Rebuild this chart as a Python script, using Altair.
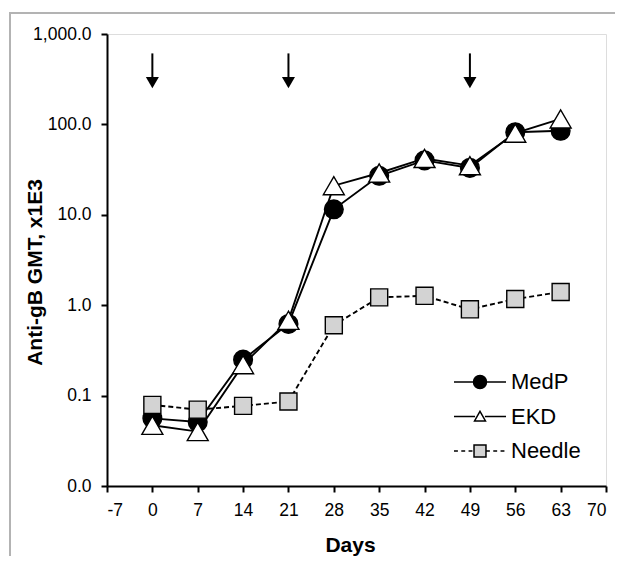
import altair as alt
import pandas as pd

# ---- data ----
days = [0, 7, 14, 21, 28, 35, 42, 49, 56, 63]
medp = [0.056, 0.051, 0.25, 0.62, 11.5, 27, 40, 33, 82, 85]
ekd = [0.047, 0.040, 0.22, 0.68, 21, 29, 42, 35, 80, 115]
needle = [0.079, 0.070, 0.077, 0.086, 0.60, 1.22, 1.27, 0.90, 1.17, 1.40]
series_names = ["MedP", "EKD", "Needle"]

arrow_days = [0, 21, 49]
arrow_top = [610, 610, 610]
arrow_head = [290, 290, 290]

y_ticks = [0.01, 0.1, 1, 10, 100, 1000]
x_ticks = list(range(-7, 71, 7))

rows = []
for name, vals in zip(series_names, [medp, ekd, needle]):
    for d, v in zip(days, vals):
        rows.append({"Days": d, "GMT": v, "Series": name})
df = pd.DataFrame(rows)
arrows = pd.DataFrame({"Days": arrow_days, "top": arrow_top, "head": arrow_head})

FONT = "Liberation Sans"
W, H = 499, 452

x_scale = alt.Scale(domain=[-7, 70], nice=False, zero=False)
y_scale = alt.Scale(type="log", domain=[0.01, 1000], nice=False)

x_axis = alt.Axis(
    values=x_ticks, title="Days", grid=False, domain=True, domainColor="black",
    domainWidth=2, tickColor="black", tickWidth=2, tickSize=6, labelFontSize=17.5,
    labelColor="black", labelFont=FONT, labelPadding=9,
    labelExpr="'' + datum.value", titleFont=FONT,
    titleFontSize=21, titleFontWeight="bold", titleColor="black",
    titleX=243, titleY=59, titleBaseline="middle", titleAlign="center",
)
y_axis = alt.Axis(
    values=y_ticks, format=",.1f", title="Anti-gB GMT, x1E3", grid=False,
    domain=True, domainColor="black", domainWidth=2, tickColor="black",
    tickWidth=2, tickSize=6, labelFontSize=17.5, labelColor="black",
    labelFont=FONT, labelPadding=10, titleFont=FONT, titleFontSize=21,
    titleFontWeight="bold", titleColor="black", titleX=-72, titleY=238,
    titleBaseline="middle", titleAlign="center", titleAngle=-90,
)

base = alt.Chart(df)

def series_layers(name, shape, fill, size, dash):
    d = base.transform_filter(alt.datum.Series == name)
    line_kwargs = dict(color="black", strokeWidth=1.9)
    if dash:
        line_kwargs["strokeDash"] = dash
    line = d.mark_line(**line_kwargs).encode(
        x=alt.X("Days:Q", scale=x_scale, axis=x_axis),
        y=alt.Y("GMT:Q", scale=y_scale, axis=y_axis),
    )
    pts = d.mark_point(
        shape=shape, filled=True, fill=fill, stroke="black", strokeWidth=1.4,
        size=size, opacity=1,
    ).encode(x="Days:Q", y="GMT:Q")
    return [line, pts]

layers = []
layers += series_layers("MedP", "circle", "black", 350, None)
layers += series_layers("EKD", "triangle-up", "white", 440, None)
layers += series_layers("Needle", "square", "#d3d3d3", 290, [5, 3])

# arrows
shaft = alt.Chart(arrows).mark_rule(color="black", strokeWidth=2).encode(
    x="Days:Q", y="top:Q", y2="head:Q"
)
head = alt.Chart(arrows).mark_point(
    shape="triangle-down", filled=True, color="black", size=170, opacity=1
).encode(x="Days:Q", y="head:Q")

# legend (symbol = line + marker drawn as one custom path)
circle_path = ("M-1,0H-0.25 M0.25,0H1 M0.25,0A0.25,0.25 0 1 1 -0.25,0"
               "A0.25,0.25 0 1 1 0.25,0Z")
tri_path = "M-1,0H-0.19 M0.19,0H1 M0,-0.2L0.21,0.17L-0.21,0.17Z"
sq_path = ("M-1,0H-0.85 M-0.72,0H-0.57 M-0.44,0H-0.29 "
           "M0.23,0H0.38 M0.51,0H0.66 M0.79,0H0.94 "
           "M-0.23,-0.23H0.23V0.23H-0.23Z")

def leg():
    return alt.Legend(
        title=None, orient="none", legendX=346, legendY=337,
        symbolSize=2704, clipHeight=22, rowPadding=12.5, labelOffset=4,
        labelFontSize=22, labelFont=FONT, labelColor="black",
        symbolStrokeColor="black", symbolStrokeWidth=1.5, padding=0,
    )

legend_layer = base.transform_filter("datum.Days > 1000").mark_point(
    filled=True, strokeWidth=1.5, opacity=1
).encode(
    x="Days:Q",
    y="GMT:Q",
    shape=alt.Shape(
        "Series:N",
        scale=alt.Scale(domain=series_names, range=[circle_path, tri_path, sq_path]),
        legend=leg(),
    ),
    fill=alt.Fill(
        "Series:N",
        scale=alt.Scale(domain=series_names, range=["black", "white", "#d3d3d3"]),
        legend=leg(),
    ),
    stroke=alt.Stroke(
        "Series:N",
        scale=alt.Scale(domain=series_names, range=["black", "black", "black"]),
        legend=leg(),
    ),
)

frame_src = pd.DataFrame({"k": [0]})
frame_top = alt.Chart(frame_src).mark_rule(
    color="#b3b3b3", strokeWidth=2, clip=False
).encode(x=alt.value(-97), x2=alt.value(508), y=alt.value(-21))
frame_left = alt.Chart(frame_src).mark_rect(
    fill="#b3b3b3", strokeWidth=0, clip=False
).encode(x=alt.value(-98), x2=alt.value(-96), y=alt.value(-22), y2=alt.value(530))

chart = alt.layer(frame_top, frame_left, *layers, shaft, head, legend_layer).properties(
    width=W, height=H,
    autosize=alt.AutoSizeParams(type="none"),
    padding={"left": 99, "top": 26, "right": 9, "bottom": 70},
).configure_view(stroke="transparent", strokeWidth=0).configure(background="white")

chart.save("out.html", embed_options={"renderer": "svg", "actions": False})
